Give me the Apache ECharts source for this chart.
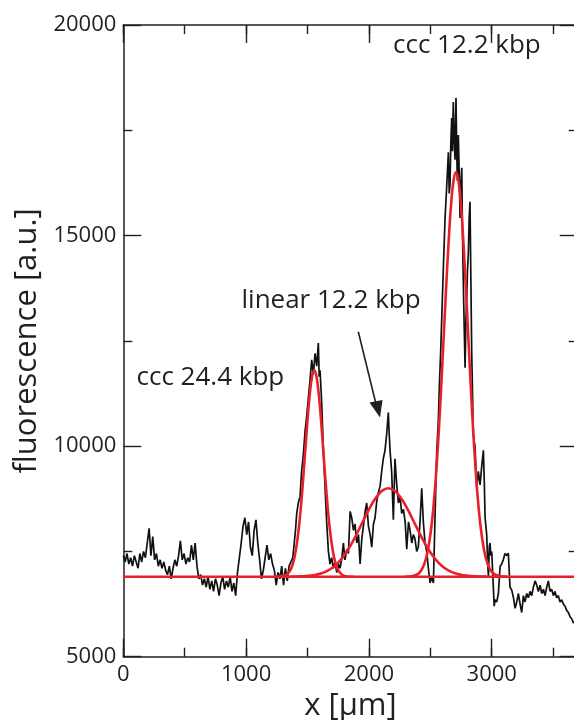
<!DOCTYPE html>
<html><head><meta charset="utf-8">
<script src="https://cdn.jsdelivr.net/npm/echarts@6/dist/echarts.min.js"></script>
<style>html,body{margin:0;padding:0;background:#fff}#c{width:574px;height:720px}</style>
</head><body><div id="c"></div>
<script>
// ---- data ----
const xRange = [0, 3700];
const yRange = [5000, 20000];
const xMajorStep = 1000;
const xMinorStep = 500;
const yMajorStep = 5000;
const baselineLevel = 6900;

// measured fluorescence profile [x (µm), fluorescence (a.u.)]
const trace = [
[0,7400],[15,7250],[30,7450],[45,7200],[60,7350],[75,7150],[90,7400],[105,7250],[120,7100],[135,7450],
[150,7250],[165,7500],[180,7350],[195,7700],[210,8050],[225,7400],[240,7850],[255,7300],[270,7450],[285,7150],
[300,7300],[315,7100],[330,7250],[345,7050],[360,6950],[375,7150],[390,6850],[405,7100],[420,7300],[435,7150],
[450,7400],[465,7750],[480,7300],[495,7450],[510,7200],[525,7350],[540,7250],[555,7650],[570,7300],[585,7700],
[600,7150],[615,6850],[630,6950],[645,6700],[660,6850],[675,6650],[690,6900],[705,6600],[720,6800],[735,6550],
[750,6850],[765,6700],[780,6450],[795,6750],[810,6900],[825,6600],[840,6800],[855,6650],[870,6900],[885,6550],
[900,6750],[915,6450],[930,7000],[945,7350],[960,7700],[975,8100],[990,8300],[1005,7900],[1020,8200],[1035,7600],
[1050,7400],[1065,8000],[1080,8250],[1095,7700],[1110,7300],[1125,6850],[1140,7050],[1155,7350],[1170,7650],[1185,7300],
[1200,7450],[1215,7200],[1230,7050],[1245,6700],[1260,7000],[1275,6850],[1290,7150],[1305,6700],[1320,7100],[1335,6800],
[1350,7150],[1365,7250],[1380,7350],[1392,7700],[1402,8000],[1412,8400],[1425,8650],[1439,8800],[1452,9400],[1466,9800],
[1480,10350],[1493,10700],[1507,11150],[1520,11550],[1534,12050],[1548,11700],[1561,12200],[1575,11900],[1588,12450],[1595,11650],
[1602,11800],[1616,11000],[1629,9900],[1643,9000],[1656,8200],[1670,7500],[1683,7200],[1697,7350],[1710,7100],[1724,7250],
[1738,7000],[1752,7200],[1765,7100],[1780,7350],[1792,7700],[1805,7300],[1820,7550],[1833,7450],[1847,8450],[1860,8300],
[1874,8000],[1887,8150],[1901,7700],[1915,7900],[1928,7200],[1942,7800],[1955,8100],[1969,8450],[1982,8650],[1996,8100],
[2010,7900],[2023,7600],[2037,8150],[2050,8300],[2064,8700],[2077,8900],[2091,9050],[2104,9400],[2117,9700],[2131,9900],
[2145,10300],[2158,10800],[2165,10300],[2172,9900],[2185,9400],[2199,8250],[2212,9700],[2226,9100],[2240,8650],[2254,8800],
[2267,8400],[2281,8500],[2295,8200],[2308,7550],[2322,8200],[2335,8000],[2349,7700],[2362,7900],[2375,7800],[2389,7500],
[2402,7600],[2416,8200],[2430,9000],[2443,8200],[2457,7700],[2470,7500],[2484,7100],[2498,6750],[2511,6900],[2525,6750],
[2538,8290],[2552,9860],[2565,10600],[2574,11450],[2585,12300],[2593,13040],[2606,14230],[2620,15420],[2634,16200],[2647,16980],
[2654,16000],[2660,16200],[2667,17200],[2674,17790],[2680,17000],[2687,18170],[2694,17300],[2701,16800],[2709,18270],[2715,17000],
[2720,16300],[2728,17390],[2735,16500],[2742,15420],[2749,16200],[2756,16610],[2762,15000],[2769,13830],[2776,12800],[2783,11860],
[2790,13000],[2796,13500],[2803,14200],[2810,14610],[2816,15400],[2823,15800],[2830,14000],[2837,12230],[2844,11200],[2850,10300],
[2857,10100],[2864,10000],[2871,9500],[2878,9000],[2891,9400],[2905,9080],[2918,9500],[2932,9900],[2939,9200],[2946,8300],
[2959,7900],[2966,7300],[2973,6900],[2980,7600],[2986,7700],[2993,7400],[3000,7500],[3013,6650],[3020,6200],[3027,6350],
[3041,6300],[3054,6500],[3068,7140],[3081,7200],[3094,7300],[3108,7450],[3122,7400],[3135,7460],[3143,6990],[3149,6650],
[3163,6580],[3177,6400],[3190,6150],[3204,6300],[3217,6500],[3231,6250],[3244,6050],[3258,6450],[3271,6300],[3285,6500],
[3298,6400],[3312,6550],[3326,6450],[3339,6650],[3353,6800],[3366,6700],[3380,6550],[3394,6700],[3407,6500],[3421,6600],
[3434,6450],[3448,6650],[3461,6800],[3475,6550],[3488,6600],[3502,6450],[3515,6550],[3529,6400],[3542,6450],[3556,6300],
[3570,6350],[3583,6250],[3597,6200],[3610,6100],[3624,6050],[3638,5950],[3651,5900],[3665,5800],[3680,5850],[3695,5750]
];

// fitted peaks (red curves)
const fitCcc24 = [
[1235,6900],[1285,6906],[1325,6939],[1355,7027],[1375,7154],[1395,7373],[1415,7719],[1435,8215],[1455,8866],[1475,9631],
[1495,10427],[1515,11134],[1535,11624],[1555,11800],[1575,11624],[1595,11134],[1615,10427],[1635,9631],[1655,8866],[1675,8215],
[1695,7719],[1715,7373],[1735,7154],[1755,7027],[1785,6939],[1825,6906],[1875,6900]
];
const fitLinear12 = [
[1358,6901],[1458,6909],[1558,6940],[1608,6975],[1658,7034],[1708,7126],[1758,7260],[1808,7444],[1858,7679],[1908,7955],
[1958,8251],[2008,8539],[2058,8781],[2108,8943],[2158,9000],[2208,8943],[2258,8781],[2308,8539],[2358,8251],[2408,7955],
[2458,7679],[2508,7444],[2558,7260],[2608,7126],[2658,7034],[2708,6975],[2758,6940],[2858,6909],[2958,6901]
];
const fitCcc12 = [
[2289,6900],[2349,6911],[2389,6946],[2419,7020],[2449,7185],[2479,7511],[2509,8097],[2529,8676],[2549,9432],[2569,10360],
[2589,11436],[2609,12604],[2629,13780],[2649,14859],[2669,15733],[2689,16302],[2709,16500],[2729,16302],[2749,15733],[2769,14859],
[2789,13780],[2809,12604],[2829,11436],[2849,10360],[2869,9432],[2889,8676],[2909,8097],[2939,7511],[2969,7185],[2999,7020],
[3029,6946],[3069,6911],[3129,6900]
];
const baselineLine = [[xRange[0], baselineLevel], [xRange[1], baselineLevel]];

const annotations = ['ccc 12.2 kbp', 'linear 12.2 kbp', 'ccc 24.4 kbp'];
const xName = 'x [μm]';
const yName = 'fluorescence [a.u.]';

// ---- chart ----
const INK = '#231f20';
const RED = '#e8202a';
const FONT = 'Open Sans';
const gridRect = {left: 123.3, top: 25, width: 454.4, height: 631.7, outerBoundsMode: 'none', containLabel: false};
const plain = v => String(v);

function xAx(gridIndex, pos, step, len, opts) {
  return Object.assign({
    type: 'value', gridIndex, position: pos, min: xRange[0], max: xRange[1], interval: step,
    axisLine: {show: false},
    axisTick: {show: true, inside: true, length: len, lineStyle: {color: INK, width: 1.4}},
    axisLabel: {show: false},
    splitLine: {show: false}
  }, opts || {});
}

const chart = echarts.init(document.getElementById('c'), null, {renderer: 'canvas'});
chart.setOption({
  animation: false,
  backgroundColor: '#fff',
  grid: [Object.assign({}, gridRect), Object.assign({}, gridRect)],
  xAxis: [
    xAx(0, 'bottom', xMajorStep, 18, {
      axisLine: {show: true, onZero: false, lineStyle: {color: INK, width: 1.5}},
      axisLabel: {show: true, color: INK, fontFamily: FONT, fontSize: 22, margin: 7, showMaxLabel: false, formatter: plain},
      name: xName, nameLocation: 'middle', nameGap: 30,
      nameTextStyle: {color: INK, fontFamily: FONT, fontSize: 31}
    }),
    xAx(0, 'top', xMajorStep, 18, {
      axisLine: {show: true, onZero: false, lineStyle: {color: INK, width: 1.5}}
    }),
    xAx(1, 'bottom', xMinorStep, 9),
    xAx(1, 'top', xMinorStep, 9)
  ],
  yAxis: [
    {
      type: 'value', gridIndex: 0, position: 'left', min: yRange[0], max: yRange[1], interval: yMajorStep,
      axisLine: {show: true, onZero: false, lineStyle: {color: INK, width: 1.5}},
      axisTick: {show: true, inside: true, length: 18, lineStyle: {color: INK, width: 1.4}},
      minorTick: {show: true, splitNumber: 2, length: 9, lineStyle: {color: INK, width: 1.4}},
      axisLabel: {color: INK, fontFamily: FONT, fontSize: 22, margin: 7, formatter: plain},
      splitLine: {show: false}, minorSplitLine: {show: false},
      name: yName, nameLocation: 'middle', nameGap: 80, nameRotate: 90,
      nameTextStyle: {color: INK, fontFamily: FONT, fontSize: 31}
    },
    {
      type: 'value', gridIndex: 0, position: 'right', min: yRange[0], max: yRange[1], interval: yMajorStep,
      axisLine: {show: true, onZero: false, lineStyle: {color: INK, width: 1.5}},
      axisTick: {show: true, inside: true, length: 18, lineStyle: {color: INK, width: 1.4}},
      minorTick: {show: true, splitNumber: 2, length: 9, lineStyle: {color: INK, width: 1.4}},
      axisLabel: {show: false}, splitLine: {show: false}
    },
    {type: 'value', gridIndex: 1, min: yRange[0], max: yRange[1], show: false}
  ],
  series: [
    {type: 'line', xAxisIndex: 0, yAxisIndex: 0, data: trace, showSymbol: false, symbol: 'none',
     lineStyle: {color: '#111', width: 1.7}, z: 2},
    {type: 'line', xAxisIndex: 0, yAxisIndex: 0, data: baselineLine, showSymbol: false, symbol: 'none',
     lineStyle: {color: RED, width: 2.6}, z: 3},
    {type: 'line', xAxisIndex: 0, yAxisIndex: 0, data: fitCcc24, showSymbol: false, symbol: 'none', smooth: 0.4,
     lineStyle: {color: RED, width: 2.6}, z: 3},
    {type: 'line', xAxisIndex: 0, yAxisIndex: 0, data: fitLinear12, showSymbol: false, symbol: 'none', smooth: 0.4,
     lineStyle: {color: RED, width: 2.6}, z: 3},
    {type: 'line', xAxisIndex: 0, yAxisIndex: 0, data: fitCcc12, showSymbol: false, symbol: 'none', smooth: 0.4,
     lineStyle: {color: RED, width: 2.6}, z: 3}
  ],
  graphic: [
    {type: 'text', left: 393, top: 33, z: 10,
     style: {text: annotations[0], fill: INK, font: '26px "Open Sans"'}},
    {type: 'text', left: 241.5, top: 288, z: 10,
     style: {text: annotations[1], fill: INK, font: '26px "Open Sans"'}},
    {type: 'text', left: 136.5, top: 365, z: 10,
     style: {text: annotations[2], fill: INK, font: '26px "Open Sans"'}},
    {type: 'line', z: 10, shape: {x1: 358.3, y1: 331.7, x2: 376, y2: 404},
     style: {stroke: INK, lineWidth: 1.6}},
    {type: 'polygon', z: 10, shape: {points: [[380, 417.5], [369.5, 402.5], [382.5, 400]]},
     style: {fill: INK}}
  ]
});
</script>
</body></html>
